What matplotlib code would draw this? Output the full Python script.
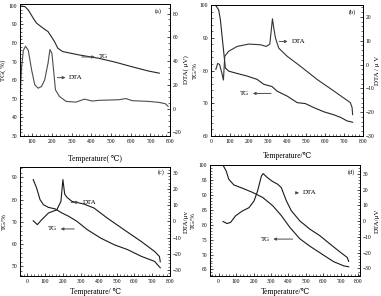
import matplotlib.pyplot as plt
import numpy as np

plt.rcParams['font.family'] = ['Liberation Serif', 'DejaVu Serif']
plt.rcParams['axes.linewidth'] = 0.6

# ---- data ----
# (a)
a_tg_x = [38, 63, 80, 105, 122, 155, 180, 197, 213, 230, 255, 338, 438, 522, 605, 688, 745]
a_tg_y = [100, 99.6, 97.8, 93.4, 90.7, 88, 86.2, 83.5, 80.8, 77.2, 75.4, 73.6, 71.8, 69.7, 67.3, 65, 63.8]
a_dta_x = [38, 46, 55, 66, 80, 97, 113, 130, 147, 163, 180, 190, 200, 210, 218, 238, 272, 322, 365, 405, 438,
           540, 575, 608, 692, 742, 775, 790]
a_dta_y = [8.3, 35, 49, 52.5, 49, 32.5, 20, 17.2, 18.6, 24, 38, 49.7, 46.4, 29.7, 15.8, 10.3, 6.1, 5.5, 8, 6.4, 7,
           7.5, 8.5, 6.7, 6.1, 5.3, 4.2, 2]
# (b)
b_tg_x = [23, 40, 49, 58, 67, 75, 93, 137, 190, 242, 277, 321, 347, 400, 453, 496, 540, 593, 645, 681, 716, 745]
b_tg_y = [100, 98.5, 95.5, 90.4, 85.4, 80.8, 79.8, 79.1, 78.3, 77.3, 75.8, 75.1, 73.7, 72.2, 70.2, 69.9, 68.7,
          67.4, 66.5, 65.7, 64.6, 64.2]
b_dta_x = [25, 35, 45, 58, 65, 72, 93, 137, 198, 260, 291, 309, 318, 323, 330, 339, 356, 400, 470, 558, 646,
           733, 742, 745]
b_dta_y = [-2, 0.5, 0, -4, -6.5, 3.5, 5.6, 7.6, 8.6, 8.3, 7.6, 8.6, 15.3, 19.2, 15.3, 11.1, 6.9, 3.5, -0.7,
           -6.25, -11.1, -16, -18, -21]
# (c)
c_tg_x = [34, 53, 72, 91, 119, 157, 194, 232, 279, 336, 411, 487, 562, 638, 713, 745]
c_tg_y = [89, 85.2, 80, 77.7, 76.5, 75.8, 74, 72.5, 70.2, 66.5, 62.7, 59.7, 57.5, 54.5, 52.2, 49.3]
c_dta_x = [34, 57, 81, 119, 166, 189, 200, 210, 223, 251, 317, 374, 449, 543, 638, 713, 740, 745]
c_dta_y = [0.4, -2, 1, 5.2, 7.2, 12.4, 25.9, 17, 14.9, 12.4, 10.8, 8.3, 2, -5.2, -12.4, -18.6, -21.7, -25]
# (d)
d_tg_x = [25, 43, 58, 87, 136, 194, 252, 310, 359, 407, 465, 523, 601, 659, 717, 745]
d_tg_y = [100, 98.1, 95.3, 93.4, 92.3, 90.9, 89.2, 86.4, 83.1, 79.2, 75.3, 72.8, 69.8, 67.6, 66.2, 65.9]
d_dta_x = [25, 48, 68, 97, 136, 174, 203, 223, 245, 255, 275, 305, 339, 359, 388, 417, 465, 523, 581, 639,
           698, 736, 745]
d_dta_y = [-0.2, -1.5, -0.8, 3.4, 6.5, 8.6, 12.9, 19.2, 28.7, 30.2, 28.1, 25.5, 23.4, 21.3, 12.9, 6.5, 0.2,
           -5.1, -9.3, -14.6, -19.8, -23, -25.5]

fig = plt.figure(figsize=(3.81, 2.96), dpi=100)

def setup(ax, ax2, left_lab, right_lab, lx, rx):
    for a in (ax, ax2):
        a.tick_params(direction='in', labelsize=4, width=0.5, length=2, pad=2)
        a.tick_params(which='minor', direction='in', width=0.4, length=1.2)
        a.minorticks_on()
    ax.tick_params(top=False, which='both')
    ax2.tick_params(top=False, which='both')
    ax.set_ylabel(left_lab, fontsize=5)
    ax.yaxis.set_label_coords(lx, 0.5)
    ax2.set_ylabel(right_lab, fontsize=5, rotation=90)
    ax2.yaxis.set_label_coords(rx, 0.5)

def arrow(ax, x0, x1, y, txt, tx, ha):
    ax.annotate('', xy=(x1, y), xytext=(x0, y),
                arrowprops=dict(arrowstyle='-|>', lw=0.7, color='0.3', mutation_scale=4))
    ax.text(tx, y, txt, fontsize=5, va='center', ha=ha)

lw = 0.8
# (a)
ax = fig.add_axes([0.0525, 0.5405, 0.394, 0.446])
ax2 = ax.twinx()
ax.plot(a_tg_x, a_tg_y, color='0.15', lw=lw)
ax2.plot(a_dta_x, a_dta_y, color='0.3', lw=lw)
ax.set_xlim(38, 800); ax.set_ylim(30, 101); ax2.set_ylim(-23, 88)
ax.set_xticks(range(100, 801, 100)); ax.set_yticks(range(30, 101, 10)); ax2.set_yticks(range(-20, 81, 20))
setup(ax, ax2, 'TG( %)', 'DTA( μV)', -0.09, 1.09)
ax.set_xlabel('Temperature( ℃)', fontsize=5.5, labelpad=8)
arrow(ax, 338, 432, 72.5, 'TG', 440, 'left')
arrow(ax, 213, 283, 61.4, 'DTA', 288, 'left')
ax.text(742, 97, '(a)', fontsize=4.5, ha='center', va='center')

# (b)
ax = fig.add_axes([0.554, 0.5405, 0.399, 0.4426])
ax2 = ax.twinx()
ax.plot(b_tg_x, b_tg_y, color='0.15', lw=lw)
ax2.plot(b_dta_x, b_dta_y, color='0.2', lw=lw)
ax.set_xlim(0, 800); ax.set_ylim(60, 100); ax2.set_ylim(-30, 25)
ax.set_xticks(range(0, 801, 100)); ax.set_yticks(range(60, 101, 10)); ax2.set_yticks(range(-30, 21, 10))
setup(ax, ax2, 'TG/%', 'DTA / μ V', -0.085, 1.08)
ax.set_xlabel('Temperature/℃', fontsize=5.5, labelpad=6)
arrow(ax2, 344, 418, 9.7, 'DTA', 426, 'left')
arrow(ax, 330, 205, 73, 'TG', 200, 'right')
ax.text(742, 97.7, '(b)', fontsize=4.5, ha='center', va='center')

# (c)
ax = fig.add_axes([0.0525, 0.0666, 0.394, 0.368])
ax2 = ax.twinx()
ax.plot(c_tg_x, c_tg_y, color='0.1', lw=lw)
ax2.plot(c_dta_x, c_dta_y, color='0.1', lw=lw)
ax.set_xlim(-40, 800); ax.set_ylim(45.5, 94.5); ax2.set_ylim(-34, 33.5)
ax.set_xticks(range(0, 801, 100)); ax.set_yticks(range(50, 91, 10)); ax2.set_yticks(range(-30, 31, 10))
setup(ax, ax2, 'TG/%', 'DTA/μv', -0.09, 1.09)
ax.set_xlabel('Temperature/ ℃', fontsize=5.5, labelpad=3)
arrow(ax2, 230, 305, 11.8, 'DTA', 312, 'left')
arrow(ax, 279, 172, 66.8, 'TG', 168, 'right')
ax.text(750, 92.5, '(c)', fontsize=4.5, ha='center', va='center')

# (d)
ax = fig.add_axes([0.551, 0.0666, 0.394, 0.375])
ax2 = ax.twinx()
ax.plot(d_tg_x, d_tg_y, color='0.1', lw=lw)
ax2.plot(d_dta_x, d_dta_y, color='0.1', lw=lw)
ax.set_xlim(-50, 810); ax.set_ylim(62.7, 100); ax2.set_ylim(-35, 35.5)
ax.set_xticks(range(0, 801, 100)); ax.set_yticks(range(65, 101, 5)); ax2.set_yticks(range(-30, 31, 10))
setup(ax, ax2, 'TG/%', 'DTA/μV', -0.09, 1.1)
ax.set_xlabel('Temperature/℃', fontsize=5.5, labelpad=3)
arrow(ax2, 432, 476, 18, 'DTA', 484, 'left')
arrow(ax, 440, 297, 75.2, 'TG', 292, 'right')
ax.text(760, 97.8, '(d)', fontsize=4.5, ha='center', va='center')

fig.savefig('out.png', dpi=100)
